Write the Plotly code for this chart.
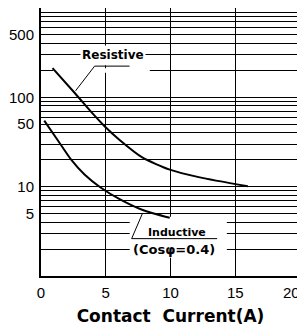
import plotly.graph_objects as go

# Data
resistive_current = [0.89, 2.59, 3.98, 4.91, 6.07, 7.85, 9.94, 12.26, 15.97]
resistive_life = [212, 112.6, 66.1, 47.5, 33.3, 21.1, 15.5, 12.7, 10.1]

inductive_current = [0.25, 1.28, 2.28, 3.36, 4.60, 6.07, 7.85, 9.94]
inductive_life = [54.9, 33.3, 20.5, 13.7, 9.8, 7.25, 5.48, 4.48]

x_ticks = [0, 5, 10, 15, 20]
y_ticks = [5, 10, 50, 100, 500]
y_grid = [m * 10 ** e for e in range(0, 3) for m in range(1, 10)] + [1000]

x_title = "Contact  Current(A)"
resistive_label = "Resistive"
inductive_label = "Inductive"
inductive_sub = "(Cosφ=0.4)"

fig = go.Figure()
fig.add_trace(go.Scatter(x=resistive_current, y=resistive_life, mode="lines",
                         line=dict(color="black", width=2, shape="spline", smoothing=0.6),
                         showlegend=False, hoverinfo="skip"))
fig.add_trace(go.Scatter(x=inductive_current, y=inductive_life, mode="lines",
                         line=dict(color="black", width=2, shape="spline", smoothing=0.6),
                         showlegend=False, hoverinfo="skip"))

font_ticks = dict(family="Liberation Sans, Arial, sans-serif", size=15, color="black")

# last x label is drawn right-aligned so it stays inside the window
x_ticktext = [str(v) for v in x_ticks[:-1]] + [""]

fig.update_xaxes(range=[0, 20], tickmode="array", tickvals=x_ticks,
                 ticktext=x_ticktext,
                 showgrid=True, gridcolor="black", gridwidth=1.3,
                 showline=True, linecolor="black", linewidth=2, mirror=True,
                 ticks="", zeroline=False, tickfont=font_ticks, automargin=False,
                 ticklabeloverflow="allow", ticklabelstandoff=2,
                 title=dict(text=x_title, standoff=10,
                            font=dict(family="DejaVu Sans", size=17, color="black",
                                      weight="bold")))
fig.update_yaxes(type="log", range=[0, 3], tickmode="array", tickvals=y_ticks,
                 ticktext=[str(v) for v in y_ticks],
                 showgrid=True, gridcolor="black", gridwidth=1.3,
                 minor=dict(tickmode="array", tickvals=y_grid, showgrid=True,
                            gridcolor="black", gridwidth=1.3, ticks=""),
                 showline=True, linecolor="black", linewidth=2, mirror=True,
                 ticks="", zeroline=False, tickfont=font_ticks, automargin=False,
                 ticklabelstandoff=2)

fig.add_annotation(x=x_ticks[-1], y=0, xref="x", yref="paper", text=str(x_ticks[-1]),
                   showarrow=False, xanchor="right", yanchor="top", xshift=2, yshift=-6,
                   font=font_ticks)

# white patches where the labels hide the grid
fig.add_shape(type="rect", xref="x", yref="y", x0=0.95, x1=8.4, y0=188, y1=212,
              fillcolor="white", line=dict(width=0), layer="between")
fig.add_shape(type="rect", xref="x", yref="y", x0=4.6, x1=5.4, y0=228, y1=380,
              fillcolor="white", line=dict(width=0), layer="between")
fig.add_shape(type="rect", xref="x", yref="y", x0=6.85, x1=14.35, y0=1.6, y1=4.6,
              fillcolor="white", line=dict(width=0), layer="between")

# leader lines
fig.add_shape(type="line", xref="x", yref="y", x0=6.84, y0=223.6, x1=4.14, y1=223.6,
              line=dict(color="black", width=1), layer="above")
fig.add_shape(type="line", xref="x", yref="y", x0=4.14, y0=223.6, x1=2.67, y1=118.5,
              line=dict(color="black", width=1), layer="above")
fig.add_shape(type="line", xref="x", yref="y", x0=7.85, y0=5.08, x1=7.0, y1=2.62,
              line=dict(color="black", width=1), layer="above")
fig.add_shape(type="line", xref="x", yref="y", x0=7.0, y0=2.62, x1=13.6, y1=2.62,
              line=dict(color="black", width=1), layer="above")

fig.add_annotation(x=5.57, y=2.477, xref="x", yref="y", text=resistive_label,
                   showarrow=False, bgcolor="white", borderpad=1,
                   font=dict(family="DejaVu Sans", size=12, color="black", weight="bold"))
fig.add_annotation(x=10.48, y=0.485, xref="x", yref="y", text=inductive_label,
                   showarrow=False, borderpad=0,
                   font=dict(family="DejaVu Sans", size=11, color="black", weight="bold"))
fig.add_annotation(x=10.3, y=0.298, xref="x", yref="y", text=inductive_sub,
                   showarrow=False, borderpad=0,
                   font=dict(family="DejaVu Sans", size=13, color="black", weight="bold"))

# the page body adds an 8px offset, so the figure is sized to fit the window
fig.update_layout(width=297, height=328, margin=dict(l=33, r=5, t=0, b=60),
                  plot_bgcolor="white", paper_bgcolor="white")

fig.write_html("out.html")
